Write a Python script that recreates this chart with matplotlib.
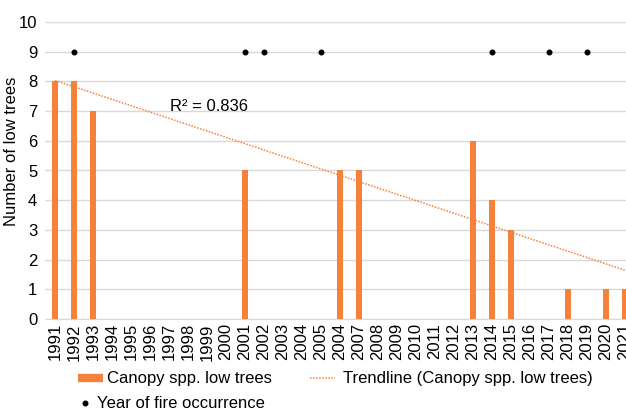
import matplotlib.pyplot as plt
import numpy as np
from matplotlib.lines import Line2D

plt.rcParams["font.family"] = ["Liberation Sans", "DejaVu Sans"]

# category labels as shown on the original axis (the 16th reads "2004")
years = ["1991", "1992", "1993", "1994", "1995", "1996", "1997", "1998", "1999", "2000",
         "2001", "2002", "2003", "2004", "2005", "2004", "2007", "2008", "2009", "2010",
         "2011", "2012", "2013", "2014", "2015", "2016", "2017", "2018", "2019", "2020",
         "2021"]
low_trees = [8, 8, 7, None, None, None, None, None, None, None,
             5, None, None, None, None, 5, 5, None, None, None,
             None, None, 6, 4, 3, None, None, 1, None, 1,
             1]
# category positions of the fire years (index into years)
fire_idx = [1, 10, 11, 14, 23, 26, 28]
fire_level = 9

orange = "#f5813a"
W, H = 626, 411

x = np.arange(len(years))
vals = np.array([np.nan if v is None else v for v in low_trees], dtype=float)
mask = ~np.isnan(vals)

fig = plt.figure(figsize=(W / 100, H / 100), dpi=100)
ax = fig.add_axes([45 / W, 1 - 319 / H, 1 - 45 / W, (319 - 22) / H])

ax.bar(x[mask], vals[mask], width=0.34, color=orange, zorder=3)

# linear trendline on the non-blank points (Excel style, x = category index)
coef = np.polyfit(x[mask] + 1, vals[mask], 1)
fit = np.polyval(coef, x[mask] + 1)
r2 = 1 - np.sum((vals[mask] - fit) ** 2) / np.sum((vals[mask] - vals[mask].mean()) ** 2)
tx = np.array([x[0], x[-1]])
ax.plot(tx, np.polyval(coef, tx + 1), color=orange, lw=1.1, ls=(0, (1, 1)), zorder=4)
ax.text(6.05, 7.15, f"R\u00b2 = {r2:.3f}", fontsize=12, va="center", ha="left")

ax.plot(fire_idx, [fire_level] * len(fire_idx), "o", color="black", ms=3.3, zorder=5)

ax.set_xlim(-0.53, 30.05)
ax.set_ylim(0, 10)
ax.set_yticks(range(0, 11))
ax.set_xticks(x)
ax.set_xticklabels(years, rotation=90, fontsize=12)
ax.tick_params(axis="y", labelsize=12, length=0, pad=5.5)
ax.tick_params(axis="x", length=0, pad=3)
ax.grid(axis="y", color="#d9d9d9", lw=1.0, zorder=0)
ax.set_axisbelow(True)
for s in ["top", "right", "left"]:
    ax.spines[s].set_visible(False)
ax.spines["bottom"].set_color("#d9d9d9")
ax.set_ylabel("Number of low trees", fontsize=12)
ax.yaxis.set_label_coords((19 - 45) / (W - 45), (319 - 151) / 297)

# legend drawn by hand to match the original placement
def fx(px):
    return px / W


def fy(py):
    return 1 - py / H


fig.add_artist(Line2D([fx(78), fx(103)], [fy(378), fy(378)], color=orange, lw=6,
                      solid_capstyle="butt"))
fig.text(fx(107), fy(378), "Canopy spp. low trees", fontsize=12, va="center")
fig.add_artist(Line2D([fx(310), fx(335)], [fy(378), fy(378)], color=orange, lw=1.1,
                      ls=(0, (1, 1))))
fig.text(fx(343), fy(378), "Trendline (Canopy spp. low trees)", fontsize=12, va="center")
fig.add_artist(Line2D([fx(85)], [fy(403)], color="black", marker="o", ms=3.3, ls="none"))
fig.text(fx(97), fy(403), "Year of fire occurrence", fontsize=12, va="center")

fig.savefig("out.png", dpi=100)
